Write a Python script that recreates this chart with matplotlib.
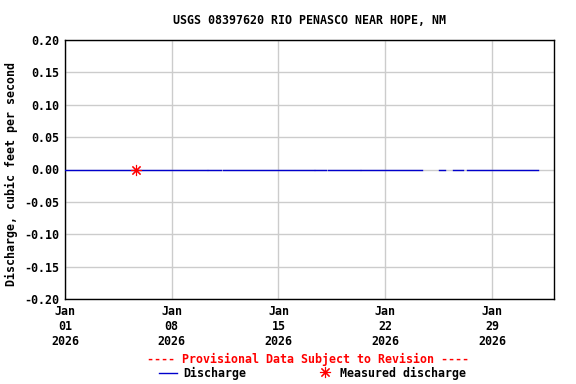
import numpy as np
import pandas as pd
import matplotlib
matplotlib.use("Agg")
import matplotlib.pyplot as plt
import matplotlib.dates as mdates

plt.rcParams["font.family"] = "DejaVu Sans Mono"
plt.rcParams["font.weight"] = "bold"
plt.rcParams["axes.unicode_minus"] = False

# discharge record segments (start, end) as days after Jan 01 2026, gaps between
seg_start = [0.0, 9.40, 10.36, 16.41, 17.25, 19.41, 24.50, 25.44, 26.36]
seg_end = [9.29, 10.25, 16.33, 17.11, 19.34, 23.41, 24.92, 26.10, 31.02]
seg_value = [0.0, 0.0, 0.0, 0.0, 0.0, 0.0, 0.0, 0.0, 0.0]

# field measurement
meas_day = [4.66]
meas_value = [0.0]

start = pd.Timestamp("2026-01-01")
xticks = ["2026-01-01", "2026-01-08", "2026-01-15", "2026-01-22", "2026-01-29"]
yticks = [-0.20, -0.15, -0.10, -0.05, 0.00, 0.05, 0.10, 0.15, 0.20]

t, v = [], []
for s, e, val in zip(seg_start, seg_end, seg_value):
    t += [start + pd.Timedelta(days=s), start + pd.Timedelta(days=e), start + pd.Timedelta(days=e)]
    v += [val, val, np.nan]

fig = plt.figure(figsize=(5.76, 3.84), dpi=100)
ax = fig.add_axes([65 / 576, 1 - 299 / 384, 489 / 576, 259 / 384])
ax.plot(t, v, color="#0000cc", lw=1.0, zorder=3)
mt = [start + pd.Timedelta(days=d) for d in meas_day]
ax.plot(mt, meas_value, ls="none", marker=(8, 2, 0), ms=8, mec="red", mew=0.8, zorder=4)

ax.set_xlim(start, start + pd.Timedelta(days=32.07))
ax.set_ylim(-0.2, 0.2)
ax.set_xticks([pd.Timestamp(x) for x in xticks])
ax.xaxis.set_major_formatter(mdates.DateFormatter("%b\n%d\n%Y"))
ax.set_yticks(yticks)
ax.set_yticklabels([f"{y:.2f}" for y in yticks])
ax.tick_params(length=0, labelsize=8.4, pad=4)
for lab in ax.get_xticklabels() + ax.get_yticklabels():
    lab.set_fontweight("bold")
ax.grid(True, color="#cccccc", lw=1.0)
ax.set_axisbelow(True)
for sp in ax.spines.values():
    sp.set_linewidth(1.0)
    sp.set_color("black")

ax.set_ylabel("Discharge, cubic feet per second", fontsize=8.4, fontweight="bold")
ax.yaxis.set_label_coords(-0.097, 0.483)
fig.text(0.5 * (65 + 554) / 576, 1 - 20 / 384, "USGS 08397620 RIO PENASCO NEAR HOPE, NM",
         ha="center", va="center", fontsize=8.4, fontweight="bold")
fig.text(308 / 576, 1 - 359 / 384, "---- Provisional Data Subject to Revision ----",
         ha="center", va="center", fontsize=8.4, fontweight="bold", color="red")

# legend row
fig.add_artist(plt.Line2D([159 / 576, 177 / 576], [1 - 373 / 384] * 2, color="#0000cc", lw=1.0))
fig.text(183 / 576, 1 - 373 / 384, "Discharge", ha="left", va="center", fontsize=8.4, fontweight="bold")
fig.add_artist(plt.Line2D([325 / 576], [1 - 372 / 384], ls="none", marker=(8, 2, 0), ms=8,
                          mec="red", mew=0.8))
fig.text(340 / 576, 1 - 373 / 384, "Measured discharge", ha="left", va="center", fontsize=8.4,
         fontweight="bold")

fig.savefig("out.png", dpi=100)
